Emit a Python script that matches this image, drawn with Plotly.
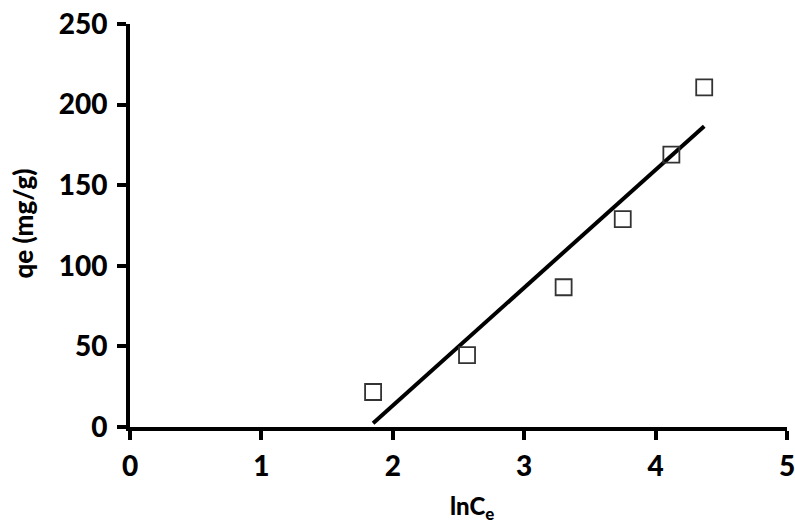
import numpy as np
import plotly.graph_objects as go

# Measured adsorption data (Temkin-style plot)
ln_ce = [1.85, 2.565, 3.30, 3.75, 4.12, 4.37]
qe = [21.7, 44.6, 86.7, 128.9, 169.0, 210.7]

x_ticks = [0, 1, 2, 3, 4, 5]
y_ticks = [0, 50, 100, 150, 200, 250]

# Least-squares linear fit over the measured range
slope, intercept = np.polyfit(ln_ce, qe, 1)
fit_x = [min(ln_ce), max(ln_ce)]
fit_y = [slope * v + intercept for v in fit_x]

FONT = "Lato"
WEIGHT = 900

fig = go.Figure()
fig.add_trace(go.Scatter(
    x=fit_x, y=fit_y, mode="lines",
    line=dict(color="black", width=4),
    showlegend=False, hoverinfo="skip",
))
fig.add_trace(go.Scatter(
    x=ln_ce, y=qe, mode="markers",
    marker=dict(symbol="square-open", size=16, color="#333333",
                line=dict(width=1.8, color="#333333")),
    showlegend=False,
))

axis_common = dict(
    showline=True, linecolor="black", linewidth=4,
    ticks="outside", ticklen=9, tickwidth=4, tickcolor="black",
    showgrid=False, zeroline=False, automargin=False,
    ticklabeloverflow="allow",
    tickfont=dict(family=FONT, size=28, color="black", weight=WEIGHT),
    mirror=False,
)

fig.update_layout(
    width=795, height=524,
    margin=dict(l=130, r=8, t=24, b=97),
    plot_bgcolor="white", paper_bgcolor="white",
    xaxis=dict(range=[0, 5], tickvals=x_ticks, ticklabelstandoff=2, **axis_common),
    yaxis=dict(range=[0, 250], tickvals=y_ticks, ticklabelstandoff=4, **axis_common),
)

fig.add_annotation(
    text="lnC<sub>e</sub>", xref="paper", yref="paper",
    x=0.52, y=0, yshift=-62, xanchor="center", yanchor="top",
    showarrow=False,
    font=dict(family=FONT, size=24, color="black", weight=WEIGHT),
)
fig.add_annotation(
    text="qe (mg/g)", xref="paper", yref="paper",
    x=0, xshift=-107, y=0.505, xanchor="center", yanchor="middle",
    textangle=-90, showarrow=False,
    font=dict(family=FONT, size=26, color="black", weight=WEIGHT),
)

fig.write_html("out.html")
